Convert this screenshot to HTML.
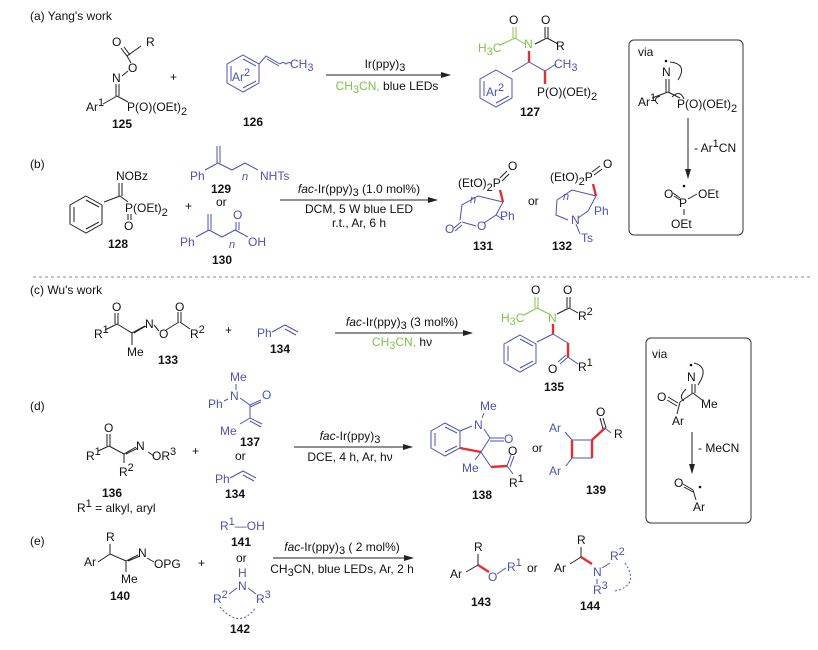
<!DOCTYPE html>
<html><head><meta charset="utf-8"><style>
html,body{margin:0;padding:0;background:#fff}
svg{display:block;font-family:"Liberation Sans",Arial,sans-serif}
.t{font-size:12px;fill:#111}
.s{font-size:11px}
.b{font-weight:bold;font-size:12px;fill:#111}
.bl{fill:#4a52b8}
.gr{fill:#7cc444}
.k{stroke:#222;stroke-width:1;fill:none}
.kb{stroke:#4a52b8;stroke-width:1;fill:none}
.kg{stroke:#7cc444;stroke-width:1;fill:none}
.r{stroke:#e52f2f;stroke-width:2.4;fill:none}
</style></head><body>
<svg width="818" height="650" viewBox="0 0 818 650" xmlns="http://www.w3.org/2000/svg">
<defs><marker id="ah" markerWidth="10" markerHeight="6" refX="9" refY="3" orient="auto"><path d="M0,0 L10,3 L0,6 z" fill="#222"/></marker></defs>

<!-- (a) -->
<text x="30" y="20" class="t">(a) Yang's work</text>
<text x="112" y="46" class="t">O</text><text x="146" y="46" class="t">R</text>
<path class="k" d="M121,48 L127,56 L141,46 M124,47 L130,55 M127,56 L131,63"/>
<text x="128" y="72" class="t">O</text>
<path class="k" d="M128,71 L122,76"/>
<text x="112" y="82" class="t">N</text>
<path class="k" d="M116,84 L116,96 M119,84 L119,96 M117,96 L103,104 M117,96 L128,102"/>
<text x="86" y="111" class="t">Ar<tspan class="s" dy="-5">1</tspan></text>
<text x="127" y="111" class="t">P(O)(OEt)<tspan class="s" dy="4">2</tspan></text>
<text x="112" y="128" class="b">125</text>
<text x="170" y="81" class="t">+</text>
<polygon class="kb" points="243,55 259,64 259,83 243,92 227,83 227,64"/>
<path class="kb" d="M231,66 L231,81 M243,59 L256,66 M243,88 L256,81"/>
<text x="232" y="81" class="t bl">Ar<tspan class="s" dy="-5">2</tspan></text>
<path class="kb" d="M259,64 L266,56 L280,64 M267,59 L279,66 M280,64 q3,-3 6,0 q3,-3 6,0"/>
<text x="290" y="68" class="t bl">CH<tspan class="s" dy="3">3</tspan></text>
<text x="243" y="126" class="b">126</text>
<line x1="326" y1="75" x2="450" y2="75" stroke="#222" marker-end="url(#ah)"/>
<text x="385" y="68" class="t" text-anchor="middle">Ir(ppy)<tspan class="s" dy="3">3</tspan></text>
<text x="387" y="90" class="t" text-anchor="middle"><tspan class="gr">CH<tspan class="s" dy="3">3</tspan><tspan dy="-3">CN,</tspan></tspan> blue LEDs</text>
<!-- 127 -->
<text x="509" y="24" class="t">O</text><text x="541" y="24" class="t">O</text>
<path class="kg" d="M513,27 L513,38 M516,27 L516,38 M515,38 L500,45 M515,38 L525,44"/>
<path class="k" d="M545,27 L545,38 M548,27 L548,38 M547,38 L535,44 M547,38 L558,44"/>
<text x="478" y="52" class="t gr">H<tspan class="s" dy="3">3</tspan><tspan dy="-3">C</tspan></text>
<text x="524" y="48" class="t gr">N</text>
<text x="556" y="50" class="t">R</text>
<path class="r" d="M529,51 L529,62"/>
<path class="kb" d="M529,62 L512,72 M529,62 L545,71 L556,64"/>
<path class="r" d="M545,71 L545,84"/>
<text x="554" y="68" class="t bl">CH<tspan class="s" dy="3">3</tspan></text>
<polygon class="kb" points="496,70 512,79 512,98 496,107 480,98 480,79"/>
<path class="kb" d="M484,81 L484,96 M496,103 L509,96"/>
<text x="486" y="96" class="t bl">Ar<tspan class="s" dy="-5">2</tspan></text>
<text x="537" y="96" class="t">P(O)(OEt)<tspan class="s" dy="4">2</tspan></text>
<text x="520" y="116" class="b">127</text>
<!-- box 1 -->
<rect x="629" y="40" width="114" height="195" rx="5" fill="#fff" stroke="#333"/>
<text x="638" y="56" class="t">via</text>
<circle cx="666" cy="61" r="1.3" fill="#111"/>
<text x="662" y="76" class="t">N</text>
<path class="k" d="M666,79 L666,92 M669,79 L669,92 M668,92 L652,98 M668,92 L680,98 M670,62 q18,2 8,18 M672,97 q8,-8 12,2 M660,96 q-8,3 -2,8"/>
<text x="638" y="106" class="t">Ar<tspan class="s" dy="-5">1</tspan></text>
<text x="677" y="108" class="t">P(O)(OEt)<tspan class="s" dy="4">2</tspan></text>
<line x1="688" y1="118" x2="688" y2="178" stroke="#222" marker-end="url(#ah)"/>
<text x="694" y="152" class="t">- Ar<tspan class="s" dy="-5">1</tspan><tspan dy="5">CN</tspan></text>
<text x="664" y="198" class="t">O</text>
<circle cx="684" cy="186" r="1.3" fill="#111"/>
<text x="679" y="207" class="t">P</text>
<text x="698" y="198" class="t">OEt</text>
<path class="k" d="M673,193 L680,198 M674,196 L680,200 M688,199 L697,194 M684,209 L684,215"/>
<text x="671" y="228" class="t">OEt</text>

<!-- (b) -->
<text x="30" y="168" class="t">(b)</text>
<text x="116" y="180" class="t">NOBz</text>
<path class="k" d="M119,183 L119,196 M122,183 L122,196 M120,196 L104,202 M120,196 L128,202"/>
<polygon class="k" points="86,196 102,205 102,224 86,233 70,224 70,205"/>
<path class="k" d="M74,207 L74,222 M86,200 L99,207 M86,229 L99,222"/>
<text x="125" y="212" class="t">P(OEt)<tspan class="s" dy="4">2</tspan></text>
<path class="k" d="M128,214 L128,220 M131,214 L131,220"/>
<text x="124" y="230" class="t">O</text>
<text x="108" y="248" class="b">128</text>
<text x="185" y="210" class="t">+</text>
<path class="kb" d="M217,146 L217,163 M220,146 L220,163 M218,163 L205,170 M218,163 L232,170 L245,163 L258,170"/>
<text x="190" y="180" class="t bl">Ph</text><text x="242" y="180" class="s bl" font-style="italic">n</text>
<text x="260" y="180" class="t bl">NHTs</text>
<text x="211" y="193" class="b">129</text>
<text x="216" y="206" class="t">or</text>
<path class="kb" d="M208,214 L208,230 M211,214 L211,230 M209,230 L196,237 M209,230 L222,237 L235,230 L248,237 M236,222 L236,230 M239,222 L239,230"/>
<text x="233" y="219" class="t bl">O</text>
<text x="180" y="246" class="t bl">Ph</text><text x="229" y="248" class="s bl" font-style="italic">n</text>
<text x="248" y="246" class="t bl">OH</text>
<text x="212" y="264" class="b">130</text>
<line x1="280" y1="200" x2="437" y2="200" stroke="#222" marker-end="url(#ah)"/>
<text x="359" y="193" class="t" text-anchor="middle"><tspan font-style="italic">fac</tspan>-Ir(ppy)<tspan class="s" dy="3">3</tspan><tspan dy="-3"> (1.0 mol%)</tspan></text>
<text x="359" y="213" class="t" text-anchor="middle">DCM, 5 W blue LED</text>
<text x="359" y="227" class="t" text-anchor="middle">r.t., Ar, 6 h</text>
<!-- 131 -->
<text x="458" y="187" class="t">(EtO)<tspan class="s" dy="4">2</tspan><tspan dy="-4">P</tspan></text>
<text x="508" y="170" class="t">O</text>
<path class="k" d="M500,178 L507,171 M502,181 L509,174"/>
<path class="r" d="M500,190 L503,202"/>
<path class="kb" d="M503,202 L496,215 L484,223 M503,202 L478,196 L462,205 L460,220 M484,223"/>
<text x="477" y="230" class="t bl">O</text>
<text x="445" y="233" class="t bl">O</text>
<path class="kb" d="M454,228 L461,222 M455,231 L462,225 M462,222 L476,226 M496,215 L504,220"/>
<text x="500" y="220" class="t bl">Ph</text>
<text x="470" y="203" class="s bl" font-style="italic">n</text>
<text x="473" y="250" class="b">131</text>
<text x="528" y="205" class="t">or</text>
<text x="550" y="181" class="t">(EtO)<tspan class="s" dy="4">2</tspan><tspan dy="-4">P</tspan></text>
<text x="603" y="168" class="t">O</text>
<path class="k" d="M592,172 L600,166 M594,175 L602,169"/>
<path class="r" d="M593,184 L596,196"/>
<path class="kb" d="M596,196 L588,211 L578,218 M596,196 L572,190 L557,200 L556,215 L568,220 M576,224 L580,234"/>
<text x="571" y="224" class="t bl">N</text>
<text x="594" y="215" class="t bl">Ph</text>
<text x="581" y="242" class="t bl">Ts</text>
<text x="563" y="200" class="s bl" font-style="italic">n</text>
<text x="552" y="250" class="b">132</text>

<line x1="33" y1="277" x2="812" y2="277" stroke="#888" stroke-dasharray="3,3"/>

<!-- (c) -->
<text x="30" y="294" class="t">(c) Wu's work</text>
<text x="112" y="311" class="t">O</text>
<path class="k" d="M115,313 L115,324 M118,313 L118,324 M117,324 L105,330 M117,324 L132,333 L145,326 M132,333 L132,345 M134,333 L146,326"/>
<text x="94" y="338" class="t">R<tspan class="s" dy="-5">1</tspan></text>
<text x="145" y="328" class="t">N</text>
<text x="159" y="338" class="t">O</text>
<path class="k" d="M154,325 L159,331 M166,330 L179,322 M178,312 L178,322 M181,312 L181,322 M180,322 L190,329"/>
<text x="175" y="311" class="t">O</text>
<text x="190" y="338" class="t">R<tspan class="s" dy="-5">2</tspan></text>
<text x="127" y="356" class="t">Me</text>
<text x="158" y="364" class="b">133</text>
<text x="225" y="334" class="t">+</text>
<text x="257" y="337" class="t bl">Ph</text>
<path class="kb" d="M272,332 L285,325 L298,332 M285,329 L296,335"/>
<text x="270" y="353" class="b">134</text>
<line x1="335" y1="333" x2="472" y2="333" stroke="#222" marker-end="url(#ah)"/>
<text x="402" y="326" class="t" text-anchor="middle"><tspan font-style="italic">fac</tspan>-Ir(ppy)<tspan class="s" dy="3">3</tspan><tspan dy="-3"> (3 mol%)</tspan></text>
<text x="402" y="346" class="t" text-anchor="middle"><tspan class="gr">CH<tspan class="s" dy="3">3</tspan><tspan dy="-3">CN,</tspan></tspan> hν</text>
<!-- 135 -->
<text x="531" y="294" class="t">O</text><text x="563" y="294" class="t">O</text>
<path class="kg" d="M535,297 L535,308 M538,297 L538,308 M537,308 L524,315 M537,308 L549,314"/>
<path class="k" d="M567,297 L567,308 M570,297 L570,308 M569,308 L557,314 M569,308 L578,313"/>
<text x="501" y="322" class="t gr">H<tspan class="s" dy="3">3</tspan><tspan dy="-3">C</tspan></text>
<text x="548" y="322" class="t gr">N</text>
<text x="578" y="320" class="t">R<tspan class="s" dy="-5">2</tspan></text>
<path class="r" d="M553,324 L553,334"/>
<path class="kb" d="M553,334 L537,342 M553,334 L568,343"/>
<path class="r" d="M568,343 L568,357"/>
<path class="kb" d="M568,357 L578,364 M568,357 L560,364 M566,355 L558,362"/>
<polygon class="kb" points="520,335 536,344 536,363 520,372 504,363 504,344"/>
<path class="kb" d="M508,346 L508,361 M520,368 L533,361 M520,339 L533,346"/>
<text x="548" y="373" class="t">O</text>
<text x="578" y="371" class="t">R<tspan class="s" dy="-5">1</tspan></text>
<text x="544" y="391" class="b">135</text>
<!-- box 2 -->
<rect x="646" y="338" width="105" height="185" rx="5" fill="#fff" stroke="#333"/>
<text x="652" y="358" class="t">via</text>
<circle cx="691" cy="365" r="1.3" fill="#111"/>
<text x="687" y="381" class="t">N</text>
<path class="k" d="M694,363 q16,4 4,22 M692,384 L692,393 M695,384 L695,393 M693,393 L680,402 M693,393 L702,400 M680,402 L677,414 M668,397 L678,403 M667,400 L677,406 M686,389 q-8,8 -2,12"/>
<text x="657" y="401" class="t">O</text>
<text x="701" y="408" class="t">Me</text>
<text x="672" y="425" class="t">Ar</text>
<line x1="692" y1="432" x2="692" y2="473" stroke="#222" marker-end="url(#ah)"/>
<text x="698" y="452" class="t">- MeCN</text>
<text x="674" y="487" class="t">O</text>
<circle cx="700" cy="487" r="1.3" fill="#111"/>
<path class="k" d="M683,484 L693,490 M684,487 L693,492 M693,490 L696,500"/>
<text x="693" y="511" class="t">Ar</text>

<!-- (d) -->
<text x="30" y="410" class="t">(d)</text>
<text x="104" y="432" class="t">O</text>
<path class="k" d="M107,434 L107,446 M110,434 L110,446 M109,446 L98,451 M109,446 L124,454 L136,447 M124,454 L124,463 M126,454 L138,448 M148,452 L154,456"/>
<text x="86" y="460" class="t">R<tspan class="s" dy="-5">1</tspan></text>
<text x="136" y="450" class="t">N</text>
<text x="152" y="460" class="t">OR<tspan class="s" dy="-5">3</tspan></text>
<text x="119" y="476" class="t">R<tspan class="s" dy="-5">2</tspan></text>
<text x="102" y="497" class="b">136</text>
<text x="77" y="512" class="t">R<tspan class="s" dy="-5">1</tspan><tspan dy="5"> = alkyl, aryl</tspan></text>
<text x="192" y="455" class="t">+</text>
<text x="230" y="381" class="t bl">Me</text>
<text x="230" y="400" class="t bl">N</text>
<text x="208" y="408" class="t bl">Ph</text>
<text x="262" y="399" class="t bl">O</text>
<path class="kb" d="M236,384 L236,390 M228,399 L224,401 M240,398 L250,405 L261,400 M250,407 L261,402 M250,405 L250,418 L262,424 M250,421 L261,427 M250,418 L240,424"/>
<text x="220" y="435" class="t bl">Me</text>
<text x="240" y="446" class="b">137</text>
<text x="235" y="460" class="t">or</text>
<text x="215" y="483" class="t bl">Ph</text>
<path class="kb" d="M230,478 L243,471 L256,478 M243,475 L254,481"/>
<text x="225" y="498" class="b">134</text>
<line x1="294" y1="447" x2="412" y2="447" stroke="#222" marker-end="url(#ah)"/>
<text x="350" y="440" class="t" text-anchor="middle"><tspan font-style="italic">fac</tspan>-Ir(ppy)<tspan class="s" dy="3">3</tspan></text>
<text x="350" y="461" class="t" text-anchor="middle">DCE, 4 h, Ar, hν</text>
<!-- 138 -->
<text x="480" y="410" class="t bl">Me</text>
<text x="474" y="429" class="t bl">N</text>
<polygon class="kb" points="431,431 445,423 460,431 460,448 445,456 431,448"/>
<path class="kb" d="M435,433 L435,446 M445,427 L457,433 M445,452 L457,446"/>
<path class="kb" d="M460,431 L472,426 M484,413 L482,418 M484,429 L490,438 M490,438 L504,438 M490,441 L504,441 M490,438 L481,452 M481,452 L491,467"/>
<path class="r" d="M460,448 L481,452"/>
<text x="504" y="443" class="t bl">O</text>
<path class="r" d="M491,467 L507,466"/>
<path class="kb" d="M481,452 L475,460 M507,466 L511,455 M510,467 L514,456 M507,466 L513,474"/>
<text x="462" y="472" class="t bl">Me</text>
<text x="508" y="455" class="t">O</text>
<text x="509" y="487" class="t">R<tspan class="s" dy="-5">1</tspan></text>
<text x="472" y="499" class="b">138</text>
<text x="532" y="452" class="t">or</text>
<text x="549" y="432" class="t bl">Ar</text>
<path class="kb" d="M565,432 L572,440 M572,458 L566,466 M592,458 L572,458 M605,428 L611,433 M592,440 L572,440"/>
<path class="r" d="M572,440 L572,458 M592,440 L592,458 M592,440 L605,428"/>
<path class="k" d="M600,418 L603,429 M603,418 L606,428"/>
<text x="596" y="416" class="t">O</text>
<text x="614" y="438" class="t">R</text>
<text x="549" y="475" class="t bl">Ar</text>
<text x="586" y="494" class="b">139</text>

<!-- (e) -->
<text x="30" y="545" class="t">(e)</text>
<text x="106" y="541" class="t">R</text>
<text x="84" y="566" class="t">Ar</text>
<path class="k" d="M110,544 L110,554 L98,562 M110,554 L126,561 L138,555 M126,561 L126,572 M128,561 L140,556 M147,558 L154,562"/>
<text x="138" y="557" class="t">N</text>
<text x="154" y="568" class="t">OPG</text>
<text x="121" y="583" class="t">Me</text>
<text x="110" y="600" class="b">140</text>
<text x="198" y="567" class="t">+</text>
<text x="220" y="530" class="t bl">R<tspan class="s" dy="-5">1</tspan><tspan dy="5">—OH</tspan></text>
<text x="231" y="546" class="b">141</text>
<text x="236" y="562" class="t">or</text>
<text x="238" y="577" class="t bl">H</text>
<text x="238" y="590" class="t bl">N</text>
<path class="kb" d="M237,588 L229,594 M248,588 L256,594"/>
<text x="213" y="603" class="t bl">R<tspan class="s" dy="-5">2</tspan></text>
<text x="256" y="603" class="t bl">R<tspan class="s" dy="-5">3</tspan></text>
<path class="kb" stroke-dasharray="2,2" d="M220,607 Q240,630 256,607"/>
<text x="230" y="633" class="b">142</text>
<line x1="273" y1="558" x2="413" y2="558" stroke="#222" marker-end="url(#ah)"/>
<text x="342" y="551" class="t" text-anchor="middle"><tspan font-style="italic">fac</tspan>-Ir(ppy)<tspan class="s" dy="3">3</tspan><tspan dy="-3"> ( 2 mol%)</tspan></text>
<text x="342" y="573" class="t" text-anchor="middle">CH<tspan class="s" dy="3">3</tspan><tspan dy="-3">CN, blue LEDs, Ar, 2 h</tspan></text>
<text x="474" y="551" class="t">R</text>
<text x="450" y="578" class="t">Ar</text>
<path class="k" d="M478,554 L478,565 L466,572"/>
<path class="r" d="M478,565 L489,572"/>
<text x="488" y="581" class="t bl">O</text>
<path class="kb" d="M497,574 L506,568"/>
<text x="507" y="571" class="t bl">R<tspan class="s" dy="-5">1</tspan></text>
<text x="527" y="572" class="t">or</text>
<text x="577" y="544" class="t">R</text>
<text x="554" y="572" class="t">Ar</text>
<path class="k" d="M581,547 L581,557 L570,564"/>
<path class="r" d="M581,557 L592,564"/>
<text x="593" y="576" class="t bl">N</text>
<path class="kb" d="M602,568 L610,563 M597,579 L597,584"/>
<text x="610" y="560" class="t bl">R<tspan class="s" dy="-5">2</tspan></text>
<text x="593" y="594" class="t bl">R<tspan class="s" dy="-5">3</tspan></text>
<path class="kb" stroke-dasharray="2,2" d="M625,563 Q640,585 615,591"/>
<text x="580" y="610" class="b">144</text>
<text x="471" y="606" class="b">143</text>
</svg>
</body></html>
